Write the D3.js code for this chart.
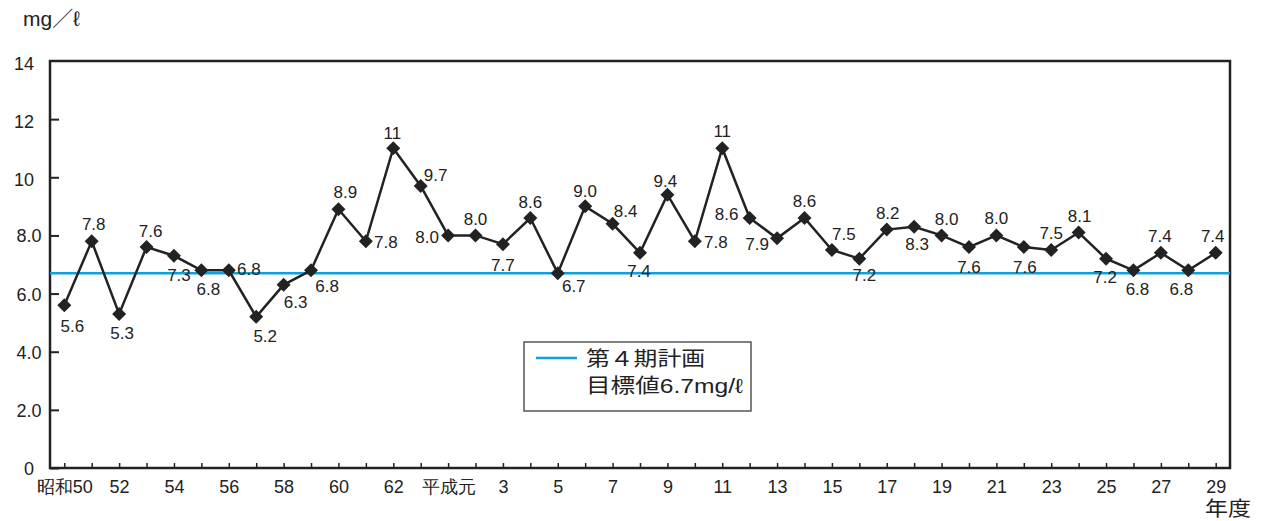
<!DOCTYPE html>
<html>
<head>
<meta charset="utf-8">
<script src="https://cdn.jsdelivr.net/npm/d3@7"></script>
<style>
    html, body { margin: 0; padding: 0; background: #fff; }
    svg { display: block; font-family: "Liberation Sans", Arial, "Noto Sans CJK JP", sans-serif; }
</style>
</head>
<body>
<svg id="canvas" width="1261" height="521"></svg>
<script>
// fiscal years, Showa 50 (1975) to Heisei 29 (2017)
const years = [1975, 1976, 1977, 1978, 1979, 1980, 1981, 1982, 1983, 1984, 1985,
    1986, 1987, 1988, 1989, 1990, 1991, 1992, 1993, 1994, 1995, 1996, 1997, 1998,
    1999, 2000, 2001, 2002, 2003, 2004, 2005, 2006, 2007, 2008, 2009, 2010, 2011,
    2012, 2013, 2014, 2015, 2016, 2017];

const values = [5.6, 7.8, 5.3, 7.6, 7.3, 6.8, 6.8, 5.2, 6.3, 6.8, 8.9,
    7.8, 11, 9.7, 8.0, 8.0, 7.7, 8.6, 6.7, 9.0, 8.4, 7.4, 9.4, 7.8,
    11, 8.6, 7.9, 8.6, 7.5, 7.2, 8.2, 8.3, 8.0, 7.6, 8.0, 7.6, 7.5,
    8.1, 7.2, 6.8, 7.4, 6.8, 7.4];

// labelled every other year
const xTickLabels = ['昭和50', '52', '54', '56', '58', '60', '62', '平成元', '3', '5', '7',
    '9', '11', '13', '15', '17', '19', '21', '23', '25', '27', '29'];

const yTicks = [0, 2, 4, 6, 8, 10, 12, 14];
const target = 6.7;

const legendLines = ['第４期計画', '目標値6.7mg/ℓ'];

// where each value label sits relative to its marker [dx, dy(baseline)]
const labelOffsets = [
    [8, 27], [2, -11], [3, 25], [4, -10], [5, 25], [7, 25], [20, 5], [9, 25], [12, 23], [16, 22], [7, -11],
    [20, 7], [-1, -9], [15, -5], [-21, 8], [0, -10], [0, 27], [0, -10], [16, 19], [0, -9], [13, -7], [-1, 24],
    [-2, -8], [21, 7], [0, -11], [-23, 2], [-20, 12], [0, -11], [12, -10], [5, 22], [1, -11], [3, 23], [5, -10],
    [0, 26], [0, -11], [1, 26], [0, -11], [1, -11], [-1, 24], [4, 25], [-1, -11], [-7, 25], [-3, -11]
];

const svg = d3.select('#canvas');
const frame = { left: 50, top: 61, right: 1230, bottom: 468 };
const ink = '#222';
const blue = '#0ea0dc';

const x = d3.scalePoint()
    .domain(years)
    .range([64.3, 1215.7]);

const y = d3.scaleLinear()
    .domain([0, 14])
    .range([frame.bottom, frame.top]);

const fmt = v => v === 0 ? '0' : (v >= 10 ? d3.format('d')(v) : d3.format('.1f')(v));

// unit
svg.append('text')
    .attr('x', 23).attr('y', 26)
    .attr('font-size', 21)
    .attr('fill', ink)
    .text('mg／ℓ');

// y axis (ticks point inward)
const yAxis = svg.append('g')
    .attr('transform', `translate(${frame.left},0)`)
    .call(d3.axisLeft(y).tickValues(yTicks.slice(0, -1)).tickSize(-9).tickFormat(fmt));
yAxis.select('.domain').remove();
yAxis.selectAll('.tick line').attr('stroke', ink).attr('stroke-width', 2);
yAxis.selectAll('text').remove();

// y labels sit a bit left of the axis, roughly centred
svg.append('g').selectAll('text')
    .data(yTicks)
    .join('text')
    .attr('x', d => d >= 10 ? 24 : 29)
    .attr('y', d => y(d) + (d >= 10 ? 9 : 7))
    .attr('text-anchor', 'middle')
    .attr('font-size', 18)
    .attr('fill', ink)
    .text(fmt);

// x axis
const xAxis = svg.append('g')
    .attr('transform', `translate(0,${frame.bottom})`)
    .call(d3.axisBottom(x).tickSize(-5).tickPadding(10)
        .tickFormat((d, i) => i % 2 === 0 ? xTickLabels[i / 2] : ''));
xAxis.select('.domain').remove();
xAxis.selectAll('.tick line').attr('stroke', ink).attr('stroke-width', 1.5);
xAxis.selectAll('text')
    .attr('font-family', null)
    .attr('font-size', 18)
    .attr('fill', ink)
    .attr('dy', null)
    .attr('y', 25);

svg.append('text')
    .attr('x', 1205).attr('y', 516)
    .attr('font-size', 20)
    .attr('textLength', 46)
    .attr('lengthAdjust', 'spacingAndGlyphs')
    .attr('fill', ink)
    .text('年度');

// plot frame
svg.append('rect')
    .attr('x', frame.left).attr('y', frame.top)
    .attr('width', frame.right - frame.left)
    .attr('height', frame.bottom - frame.top)
    .attr('fill', 'none')
    .attr('stroke', ink)
    .attr('stroke-width', 2.5);

// target line
svg.append('line')
    .attr('x1', frame.left).attr('x2', frame.right)
    .attr('y1', y(target)).attr('y2', y(target))
    .attr('stroke', blue)
    .attr('stroke-width', 2.5);

// series
const points = years.map((yr, i) => ({ year: yr, value: values[i], off: labelOffsets[i] }));

svg.append('path')
    .datum(points)
    .attr('fill', 'none')
    .attr('stroke', ink)
    .attr('stroke-width', 2.5)
    .attr('stroke-linejoin', 'miter')
    .attr('d', d3.line().x(d => x(d.year)).y(d => y(d.value)));

const diamond = d3.symbol().type(d3.symbolSquare).size(98);
svg.append('g').selectAll('path')
    .data(points)
    .join('path')
    .attr('d', diamond)
    .attr('fill', ink)
    .attr('transform', d => `translate(${x(d.year)},${y(d.value)}) rotate(45)`);

svg.append('g').selectAll('text')
    .data(points)
    .join('text')
    .attr('x', d => x(d.year) + d.off[0])
    .attr('y', d => y(d.value) + d.off[1])
    .attr('text-anchor', 'middle')
    .attr('font-size', 17)
    .attr('fill', ink)
    .text(d => fmt(d.value));

// legend
const legend = svg.append('g').attr('transform', 'translate(524,342)');
legend.append('rect')
    .attr('width', 227).attr('height', 69)
    .attr('fill', '#fff')
    .attr('stroke', '#555')
    .attr('stroke-width', 1.5);
legend.append('line')
    .attr('x1', 12).attr('x2', 53)
    .attr('y1', 16).attr('y2', 16)
    .attr('stroke', blue)
    .attr('stroke-width', 2.5);
legend.selectAll('text.item')
    .data(legendLines)
    .join('text')
    .attr('class', 'item')
    .attr('x', 62)
    .attr('y', (d, i) => 24 + i * 27)
    .attr('font-size', 20)
    .attr('textLength', (d, i) => i === 0 ? 119 : 157)
    .attr('lengthAdjust', 'spacingAndGlyphs')
    .attr('fill', ink)
    .text(d => d);
</script>
</body>
</html>
